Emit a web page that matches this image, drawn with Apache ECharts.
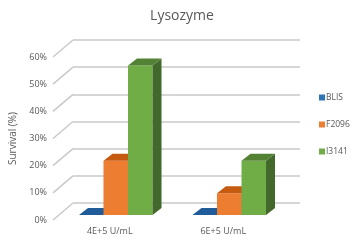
<!DOCTYPE html>
<html>
<head>
<meta charset="utf-8">
<script src="https://cdn.jsdelivr.net/npm/echarts@6/dist/echarts.min.js"></script>
<style>
html, body { margin: 0; padding: 0; background: #fff; }
#chart { width: 352px; height: 242px; }
</style>
</head>
<body>
<div id="chart"></div>
<script>
// data
var categories = ['4E+5 U/mL', '6E+5 U/mL'];
var seriesNames = ['BLIS', 'F2096', 'I3141'];
var blis = [0, 0];
var f2096 = [20, 8];
var i3141 = [55, 20];
var yTicks = [0, 10, 20, 30, 40, 50, 60];

// front / top / side colours of each series
var shades = [
  { front: '#2e75b6', top: '#1f5c99', side: '#1a4d80' },
  { front: '#ed7d31', top: '#c55a11', side: '#a94c0e' },
  { front: '#70ad47', top: '#548235', side: '#43682b' }
];

// fake 3D: front face offset from the back wall, and bar depth
var OFF_X = -14, OFF_Y = 12;
var DX = 9, DY = 7;
var WALL_DX = -20, WALL_DY = 17;

var chart = echarts.init(document.getElementById('chart'));

function barRender(k) {
  return function (params, api) {
    var c = api.value(0), v = api.value(1);
    var p0 = api.coord([c, 0]);
    var p1 = api.coord([c, v]);
    var w = api.size([1, 0])[0] * 0.216;
    var cx = p0[0] + OFF_X + (k - 1) * w;
    var x0 = cx - w / 2, x1 = cx + w / 2;
    var yb = p0[1] + OFF_Y, yt = p1[1] + OFF_Y;
    var s = shades[k];
    return {
      type: 'group',
      children: [
        { type: 'rect', shape: { x: x0, y: yt, width: w, height: yb - yt }, style: { fill: s.front } },
        { type: 'polygon', shape: { points: [[x1, yt], [x1 + DX, yt - DY], [x1 + DX, yb - DY], [x1, yb]] }, style: { fill: s.side } },
        { type: 'polygon', shape: { points: [[x0, yt], [x1, yt], [x1 + DX, yt - DY], [x0 + DX, yt - DY]] }, style: { fill: s.top } }
      ]
    };
  };
}

function toData(arr) {
  var out = [];
  for (var i = 0; i < arr.length; i++) {
    out.push([i, arr[i]]);
  }
  return out;
}

var values = [blis, f2096, i3141];
var series = [];

// diagonal wall lines for each tick
series.push({
  type: 'custom',
  name: 'wall',
  xAxisIndex: 0,
  yAxisIndex: 0,
  silent: true,
  clip: false,
  data: yTicks.map(function (t) { return [0, t]; }),
  renderItem: function (params, api) {
    var p = api.coord([0, api.value(1)]);
    var x = params.coordSys.x;
    return {
      type: 'line',
      shape: { x1: x, y1: p[1], x2: x + WALL_DX, y2: p[1] + WALL_DY },
      style: { stroke: '#c9c9c9', lineWidth: 1.5 }
    };
  }
});

for (var k = 0; k < seriesNames.length; k++) {
  series.push({
    type: 'custom',
    name: seriesNames[k],
    xAxisIndex: 0,
    yAxisIndex: 0,
    clip: false,
    itemStyle: { color: shades[k].front },
    data: toData(values[k]),
    renderItem: barRender(k)
  });
}

chart.setOption({
  animation: false,
  title: {
    text: 'Lysozyme',
    left: 177,
    textAlign: 'center',
    top: 4,
    textStyle: { fontFamily: 'Open Sans', fontSize: 14, fontWeight: 'normal', color: '#595959' }
  },
  legend: {
    data: seriesNames,
    orient: 'vertical',
    left: 314,
    top: 88,
    itemWidth: 6,
    itemHeight: 6,
    itemGap: 18,
    icon: 'rect',
    textStyle: { fontFamily: 'Open Sans', fontSize: 8.5, color: '#595959', padding: [0, 0, 0, -4] }
  },
  grid: [
    { left: 73, right: 52, top: 40, bottom: 39 },   // back wall
    { left: 53, right: 72, top: 57, bottom: 22 }    // front edge (labels)
  ],
  xAxis: [
    {
      gridIndex: 0, type: 'category', data: categories,
      axisLine: { show: false }, axisTick: { show: false }, axisLabel: { show: false }
    },
    {
      gridIndex: 1, type: 'category', data: categories,
      axisLine: { show: false }, axisTick: { show: false },
      axisLabel: { fontFamily: 'Open Sans', fontSize: 9, color: '#595959', margin: 7 }
    }
  ],
  yAxis: [
    {
      gridIndex: 0, type: 'value', min: 0, max: 60, interval: 10,
      axisLine: { show: false }, axisTick: { show: false }, axisLabel: { show: false },
      splitLine: { lineStyle: { color: '#c9c9c9', width: 1.5 } }
    },
    {
      gridIndex: 1, type: 'value', min: 0, max: 60, interval: 10,
      axisLine: { show: false }, axisTick: { show: false }, splitLine: { show: false },
      axisLabel: { fontFamily: 'Open Sans', fontSize: 9, color: '#595959', margin: 6, formatter: '{value}%' },
      name: 'Survival (%)',
      nameLocation: 'middle',
      nameGap: 35,
      nameTextStyle: { fontFamily: 'Open Sans', fontSize: 10, color: '#595959' }
    }
  ],
  series: series
});
</script>
</body>
</html>
